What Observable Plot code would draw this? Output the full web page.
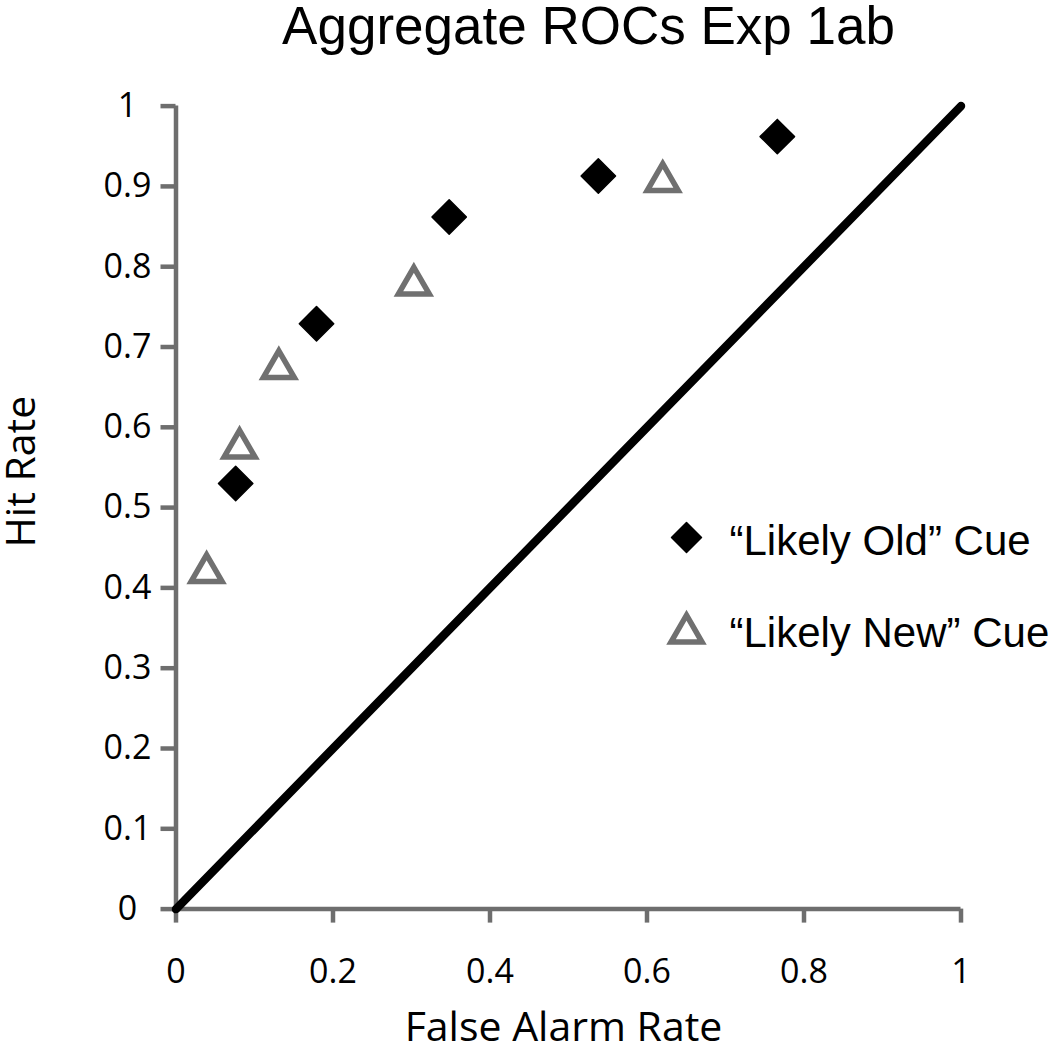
<!DOCTYPE html>
<html>
<head>
<meta charset="utf-8">
<script src="https://cdn.jsdelivr.net/npm/d3@7"></script>
<script src="https://cdn.jsdelivr.net/npm/@observablehq/plot@0.6"></script>
<style>
  html, body { margin: 0; padding: 0; background: #fff; }
  #chart svg { display: block; }
</style>
</head>
<body>
<div id="chart"></div>
<script>
// ---- data ----
const oldFA  = [0.076, 0.179, 0.348, 0.538, 0.766];
const oldHit = [0.530, 0.729, 0.862, 0.913, 0.962];
const newFA  = [0.039, 0.081, 0.131, 0.303, 0.620];
const newHit = [0.419, 0.574, 0.673, 0.777, 0.906];
const chanceLine = [0, 1];
const xTicks = [0, 0.2, 0.4, 0.6, 0.8, 1];
const yTicks = [0, 0.1, 0.2, 0.3, 0.4, 0.5, 0.6, 0.7, 0.8, 0.9, 1];
const legendLabels = ["\u201CLikely Old\u201D Cue", "\u201CLikely New\u201D Cue"];
const titleText = "Aggregate ROCs Exp 1ab";
const xLabel = "False Alarm Rate";
const yLabel = "Hit Rate";

const oldData = oldFA.map((x, i) => ({x, y: oldHit[i]}));
const newData = newFA.map((x, i) => ({x, y: newHit[i]}));
const diag = chanceLine.map(v => ({x: v, y: v}));

const axisColor = "#6e6e6e";
const triColor = "#707070";
const tickFont = "'Open Sans', sans-serif";
const arial = "'Liberation Sans', Arial, sans-serif";

const chart = Plot.plot({
  width: 1050,
  height: 1049,
  marginLeft: 175.5,
  marginRight: 89.5,
  marginTop: 105.6,
  marginBottom: 140.4,
  style: {background: "#fff", overflow: "visible"},
  x: {domain: [0, 1]},
  y: {domain: [0, 1]},
  marks: [
    Plot.axisY(yTicks, {
      tickSize: 15, tickPadding: 33.5, textAnchor: "middle",
      stroke: axisColor, strokeWidth: 4.5, strokeOpacity: 1,
      tickFormat: d => String(d), fontSize: 34, fontFamily: tickFont, fill: "#000",
      label: null
    }),
    Plot.axisX(xTicks, {
      tickSize: 14, tickPadding: 36,
      stroke: axisColor, strokeWidth: 4.5, strokeOpacity: 1,
      tickFormat: d => String(d), fontSize: 34, fontFamily: tickFont, fill: "#000",
      label: null
    }),
    Plot.ruleX([0], {stroke: axisColor, strokeWidth: 4.5}),
    Plot.ruleY([0], {stroke: axisColor, strokeWidth: 4.5}),
    Plot.line(diag, {x: "x", y: "y", stroke: "#000", strokeWidth: 8.5}),
    Plot.dot(newData, {x: "x", y: "y", symbol: "triangle", r: 11.5, stroke: triColor, strokeWidth: 5.5, fill: "#fff"}),
    Plot.dot(oldData, {x: "x", y: "y", symbol: "diamond2", r: 15.5, fill: "#000", stroke: "#000", strokeWidth: 1.5, strokeLinejoin: "round"}),
    // title
    Plot.text([titleText], {frameAnchor: "top", dx: 20, dy: -79, text: d => d,
      fontSize: 53, fontFamily: arial, fill: "#000", lineAnchor: "middle"}),
    // axis labels
    Plot.text([xLabel], {frameAnchor: "bottom", dx: -5, dy: 119, text: d => d, textAnchor: "middle",
      fontSize: 41, fontFamily: tickFont, fill: "#000", lineAnchor: "middle"}),
    Plot.text([yLabel], {frameAnchor: "left", dx: -154.5, dy: -36, rotate: -90, text: d => d, textAnchor: "middle",
      fontSize: 41, fontFamily: tickFont, fill: "#000", lineAnchor: "middle"}),
    // legend
    Plot.dot([legendLabels[0]], {frameAnchor: "top-left", dx: 510.5, dy: 431.4, symbol: "diamond2", r: 13.5, fill: "#000", stroke: "#000", strokeWidth: 1.5, strokeLinejoin: "round"}),
    Plot.text([legendLabels[0]], {frameAnchor: "top-left", dx: 553.5, dy: 435.4, text: d => d,
      textAnchor: "start", fontSize: 42, fontFamily: arial, fill: "#000", lineAnchor: "middle"}),
    Plot.dot([legendLabels[1]], {frameAnchor: "top-left", dx: 510.5, dy: 527, symbol: "triangle", r: 11.5, stroke: triColor, strokeWidth: 5.5, fill: "#fff"}),
    Plot.text([legendLabels[1]], {frameAnchor: "top-left", dx: 553.5, dy: 527.4, text: d => d,
      textAnchor: "start", fontSize: 42, fontFamily: arial, fill: "#000", lineAnchor: "middle"})
  ]
});
document.getElementById("chart").append(chart);
</script>
</body>
</html>
